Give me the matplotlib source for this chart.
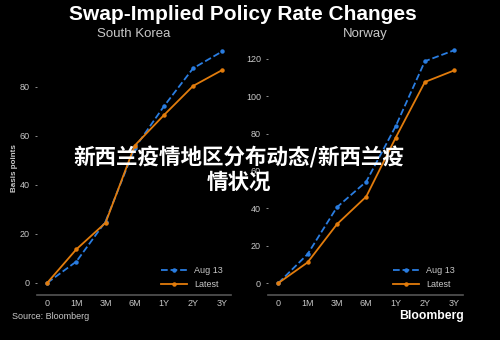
import matplotlib
matplotlib.use("Agg")
import matplotlib.pyplot as plt

# data
tenors = ["0", "1M", "3M", "6M", "1Y", "2Y", "3Y"]
kor_aug13 = [0, 8.7, 25, 55, 72, 87.5, 94.4]
kor_latest = [0, 13.7, 24.5, 56, 68.4, 80.3, 86.8]
nor_aug13 = [0, 15.5, 40.6, 54.3, 83.8, 118.7, 124.6]
nor_latest = [0, 11.1, 31.5, 46.3, 77.7, 107.6, 113.8]

blue = "#2a7de1"
orange = "#e27c0c"
grey = "#c8c8c8"

plt.rcParams['font.family'] = ['Liberation Sans', 'DejaVu Sans']

fig = plt.figure(figsize=(5, 3.4), dpi=100, facecolor="black")
ax1 = fig.add_axes([0.074, 0.132, 0.388, 0.75])
ax2 = fig.add_axes([0.536, 0.132, 0.39, 0.75])

x = list(range(len(tenors)))
panels = [(ax1, kor_aug13, kor_latest, "South Korea", (-5, 99), [0, 20, 40, 60, 80]),
          (ax2, nor_aug13, nor_latest, "Norway", (-6.4, 130), [0, 20, 40, 60, 80, 100, 120])]

for ax, aug, latest, name, ylim, yt in panels:
    ax.set_facecolor("black")
    ax.plot(x, aug, color=blue, ls="--", lw=1.3, marker="o", ms=2.2, label="Aug 13")
    ax.plot(x, latest, color=orange, ls="-", lw=1.3, marker="o", ms=2.2, label="Latest")
    ax.set_xlim(-0.35, 6.3)
    ax.set_ylim(*ylim)
    ax.set_xticks(x)
    ax.set_xticklabels(tenors)
    ax.set_yticks(yt)
    for s in ["top", "right", "left"]:
        ax.spines[s].set_visible(False)
    ax.spines["bottom"].set_color("#555555")
    ax.spines["bottom"].set_linewidth(1.2)
    ax.tick_params(colors=grey, labelsize=6.5, length=1.5, width=0.5)
    ax.tick_params(axis="x", length=0, pad=3)
    ax.set_title(name, color=grey, fontsize=9.5, pad=2)
    ax.legend(loc="lower right", frameon=False, fontsize=6.5,
              labelcolor=grey, handlelength=2.8, borderaxespad=0.3,
              bbox_to_anchor=(0.99, 0.0))

ax1.set_ylabel("Basis points", color=grey, fontsize=5.8, fontweight="bold")
ax1.yaxis.set_label_coords(-0.1, 0.5)

fig.text(0.485, 0.958, "Swap-Implied Policy Rate Changes", color="white",
         fontsize=15, fontweight="bold", ha="center", va="center")
fig.text(0.024, 0.068, "Source: Bloomberg", color=grey, fontsize=6.5, va="center")
fig.text(0.928, 0.07, "Bloomberg", color="white", fontsize=8.8, fontweight="bold",
         ha="right", va="center")

fig.text(0.477, 0.538, "新西兰疫情地区分布动态/新西兰疫", color="white", fontsize=15.5,
         fontweight="bold", ha="center", va="center",
         family=["Noto Sans CJK SC", "DejaVu Sans"])
fig.text(0.477, 0.465, "情状况", color="white", fontsize=15.5,
         fontweight="bold", ha="center", va="center",
         family=["Noto Sans CJK SC", "DejaVu Sans"])

fig.savefig("out.png", dpi=100, facecolor="black")
